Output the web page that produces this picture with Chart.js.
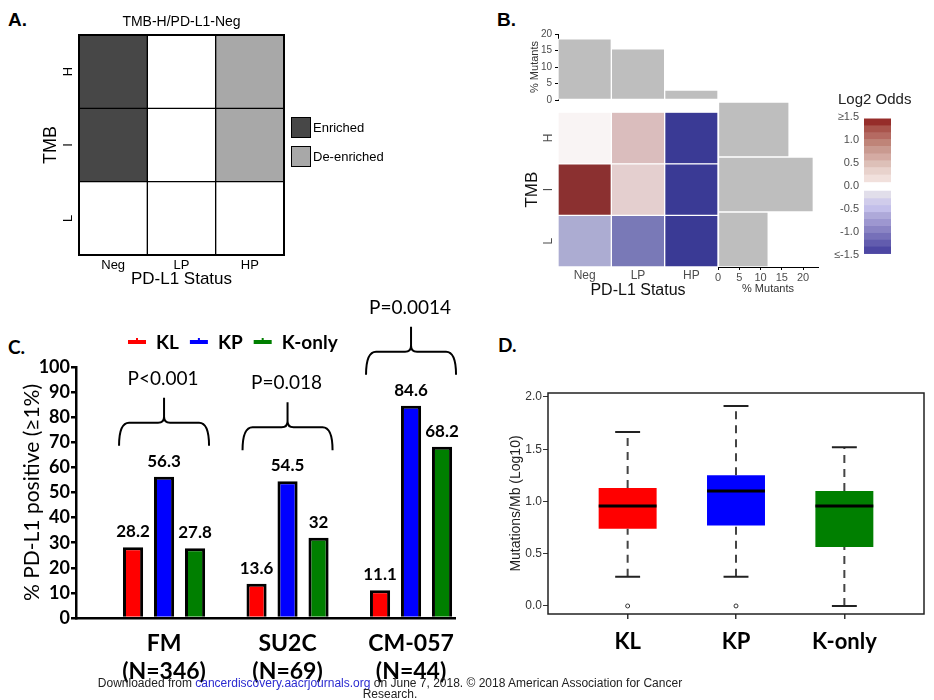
<!DOCTYPE html>
<html>
<head>
<meta charset="utf-8">
<title>TMB / PD-L1 figure</title>
<script src="https://cdn.jsdelivr.net/npm/chart.js@4.4.1/dist/chart.umd.min.js"></script>
<style>
  body { margin: 0; background: #fff; width: 934px; height: 700px; position: relative; overflow: hidden; font-family: 'Liberation Sans', Arial, sans-serif; }
  canvas { position: absolute; }
  .tag { position: absolute; font-weight: bold; line-height: 1; color: #000; }
  .tag.arial { font-family: 'Liberation Sans', Arial, sans-serif; font-size: 19px; }
  .tag.lato { font-family: 'Lato', sans-serif; font-size: 19px; }
  #footer { position: absolute; left: 90px; top: 678px; width: 600px; text-align: center; font-size: 12px; line-height: 11px; color: #222; z-index: 5; }
  #footer span { color: #2b2bd0; }
</style>
</head>
<body>
<div class="tag arial" style="left:8px;top:10px">A.</div>
<div class="tag arial" style="left:497px;top:10px">B.</div>
<div class="tag lato" style="left:8px;top:337px">C.</div>
<div class="tag lato" style="left:498px;top:335px">D.</div>

<canvas id="chartA" width="470" height="290" style="left:0;top:0"></canvas>
<canvas id="chartBTop" width="220" height="90" style="left:500px;top:20px"></canvas>
<canvas id="chartBHeat" width="220" height="200" style="left:500px;top:100px"></canvas>
<canvas id="chartBRight" width="130" height="200" style="left:700px;top:100px"></canvas>
<canvas id="chartBLegend" width="134" height="185" style="left:800px;top:85px"></canvas>
<canvas id="chartC" width="480" height="410" style="left:0;top:290px"></canvas>
<canvas id="chartD" width="454" height="380" style="left:480px;top:320px"></canvas>

<div id="footer">Downloaded from <span>cancerdiscovery.aacrjournals.org</span> on June 7, 2018. © 2018 American Association for Cancer<br>Research.</div>

<script>
(function () {
  'use strict';

  // ---- Panel A: enrichment heatmap ----
  const pdl1Status = ['Neg', 'LP', 'HP'];
  const tmbLevels = ['L', 'I', 'H'];            // bottom -> top
  const enrichH = ['Enriched', '', 'De-enriched'];
  const enrichI = ['Enriched', '', 'De-enriched'];
  const enrichL = ['', '', ''];

  // ---- Panel B: log2 odds + marginal % mutants ----
  const oddsH = [0.08, 0.48, -1.5];
  const oddsI = [1.5, 0.35, -1.5];
  const oddsL = [-0.63, -1.02, -1.5];
  const mutantsByPdl1 = [18.5, 15.5, 3];        // Neg, LP, HP
  const tmbRowsTopDown = ['H', 'I', 'L'];
  const mutantsByTmb = [16.7, 22.4, 11.8];      // H, I, L
  const oddsTicks = [-1.5, -1, -0.5, 0, 0.5, 1, 1.5];
  const legendRedBreaks = [0.09, 0.24, 0.40, 0.55, 0.70, 0.86, 1.01, 1.16, 1.31, 1.46];
  const legendRedColors = ['#f1e0dc', '#e8d2cc', '#ddc0b8', '#d4aba3', '#c99a90', '#bf8478', '#b56a62', '#a9544c', '#962d2a'];
  const legendBlueBreaks = [-0.11, -0.26, -0.41, -0.56, -0.71, -0.86, -1.01, -1.16, -1.31, -1.47];
  const legendBlueColors = ['#e1deea', '#d0cceb', '#c3bfea', '#aea9d9', '#9d97d0', '#8a84c4', '#7670b9', '#625cae', '#4d47a3'];

  // ---- Panel C: % PD-L1 positive ----
  const cohorts = [['FM', '(N=346)'], ['SU2C', '(N=69)'], ['CM-057', '(N=44)']];
  const pctKL = [28.2, 13.6, 11.1];
  const pctKP = [56.3, 54.5, 84.6];
  const pctKonly = [27.8, 32, 68.2];
  const pValues = ['P<0.001', 'P=0.018', 'P=0.0014'];

  // ---- Panel D: TMB boxplots ----
  const groups = ['KL', 'KP', 'K-only'];
  const tmbMin = [0.28, 0.28, 0.0];
  const tmbQ1 = [0.74, 0.77, 0.565];
  const tmbMedian = [0.957, 1.10, 0.957];
  const tmbQ3 = [1.13, 1.25, 1.10];
  const tmbMax = [1.665, 1.914, 1.52];
  const tmbOutliers = [[0.0], [0.0], []];

  const GROUP_COLORS = ['#ff0000', '#0000ff', '#007f00'];
  const ENRICH_COLORS = { 'Enriched': '#474747', 'De-enriched': '#a8a8a8', '': '#ffffff' };
  const ARIAL = "'Liberation Sans', Arial, sans-serif";
  const LATO = "'Lato', sans-serif";

  Chart.defaults.responsive = false;
  Chart.defaults.animation = false;
  Chart.defaults.font.family = ARIAL;
  Chart.defaults.color = '#000';
  Chart.defaults.plugins.legend.display = false;
  Chart.defaults.plugins.tooltip.enabled = false;

  // Rojo / azul segun log2 odds (saturado en +-1.5)
  function oddsColor(v) {
    const t = Math.min(Math.abs(v) / 1.5, 1);
    const end = v >= 0 ? [139, 48, 48] : [58, 58, 149];
    return 'rgb(' + end.map(e => Math.round(255 + (e - 255) * t)).join(',') + ')';
  }

  const fixedTicks = values => scale => { scale.ticks = values.map(v => ({ value: v })); };

  // ======================= A =======================
  const outlinePlugin = {
    id: 'outline',
    afterDatasetsDraw(chart) {
      const { ctx, chartArea: a } = chart;
      ctx.save();
      ctx.strokeStyle = '#000';
      ctx.lineWidth = 2;
      ctx.strokeRect(a.left, a.top, a.right - a.left, a.bottom - a.top);
      ctx.restore();
    }
  };

  const enrichLegend = {
    id: 'enrichLegend',
    afterDraw(chart) {
      const { ctx, chartArea: a } = chart;
      ctx.save();
      ctx.font = '13px ' + ARIAL;
      ctx.textBaseline = 'middle';
      ['Enriched', 'De-enriched'].forEach((label, i) => {
        const y = 117 + i * 29;
        ctx.fillStyle = ENRICH_COLORS[label];
        ctx.fillRect(a.right + 7, y, 19, 20);
        ctx.strokeStyle = '#000';
        ctx.lineWidth = 1;
        ctx.strokeRect(a.right + 7.5, y + 0.5, 19, 20);
        ctx.fillStyle = '#000';
        ctx.fillText(label, a.right + 29, y + 11);
      });
      ctx.restore();
    }
  };

  new Chart(document.getElementById('chartA'), {
    type: 'bar',
    data: {
      labels: pdl1Status,
      datasets: [
        { label: 'L', data: pdl1Status.map(() => 1), backgroundColor: enrichL.map(e => ENRICH_COLORS[e]) },
        { label: 'I', data: pdl1Status.map(() => 1), backgroundColor: enrichI.map(e => ENRICH_COLORS[e]) },
        { label: 'H', data: pdl1Status.map(() => 1), backgroundColor: enrichH.map(e => ENRICH_COLORS[e]) }
      ]
    },
    options: {
      layout: { padding: { right: 186 } },
      datasets: { bar: { barPercentage: 1, categoryPercentage: 1, borderColor: '#000', borderWidth: 1, borderSkipped: false } },
      plugins: {
        title: { display: true, text: 'TMB-H/PD-L1-Neg', fullSize: false, font: { size: 14, weight: 'normal' }, color: '#000', padding: { top: 13.6, bottom: 4.6 } }
      },
      scales: {
        x: {
          stacked: true,
          grid: { display: false, drawTicks: false },
          border: { display: false },
          ticks: { font: { size: 13 }, color: '#000', padding: 3 },
          title: { display: true, text: 'PD-L1 Status', font: { size: 17 }, color: '#000', padding: 0 },
          afterFit: s => { s.height = 35; }
        },
        y: {
          stacked: true, min: 0, max: 3,
          grid: { display: false, drawTicks: false },
          border: { display: false },
          afterBuildTicks: fixedTicks(tmbLevels.map((_, i) => i + 0.5)),
          ticks: { callback: v => tmbLevels[Math.floor(v)], minRotation: 90, maxRotation: 90, crossAlign: 'center', font: { size: 13 }, color: '#000', padding: 6 },
          title: { display: true, text: 'TMB', font: { size: 18 }, color: '#000', padding: { top: 40, bottom: 0 } },
          afterFit: s => { s.width = 79; }
        }
      }
    },
    plugins: [outlinePlugin, enrichLegend]
  });

  // ======================= B =======================
  const GREY_BAR = '#bebebe';
  const TICK_GREY = '#4d4d4d';

  new Chart(document.getElementById('chartBTop'), {
    type: 'bar',
    data: {
      labels: pdl1Status,
      datasets: [{ data: mutantsByPdl1, backgroundColor: GREY_BAR, borderColor: '#fff', borderWidth: 1, borderSkipped: false, barPercentage: 1, categoryPercentage: 1 }]
    },
    options: {
      layout: { padding: { top: 14, right: 2, bottom: 10 } },
      scales: {
        x: { display: false },
        y: {
          min: 0, max: 20,
          ticks: { stepSize: 5, font: { size: 10 }, color: TICK_GREY, padding: 3 },
          grid: { drawOnChartArea: false, tickLength: 3, color: '#000' },
          border: { color: '#000', width: 1 },
          title: { display: true, text: '% Mutants', font: { size: 11 }, color: '#333', padding: { top: 28, bottom: 0 } },
          afterFit: s => { s.width = 58; }
        }
      }
    }
  });

  new Chart(document.getElementById('chartBHeat'), {
    type: 'bar',
    data: {
      labels: pdl1Status,
      datasets: [
        { label: 'L', data: pdl1Status.map(() => 1), backgroundColor: oddsL.map(oddsColor) },
        { label: 'I', data: pdl1Status.map(() => 1), backgroundColor: oddsI.map(oddsColor) },
        { label: 'H', data: pdl1Status.map(() => 1), backgroundColor: oddsH.map(oddsColor) }
      ]
    },
    options: {
      layout: { padding: { top: 2, right: 2 } },
      datasets: { bar: { barPercentage: 1, categoryPercentage: 1, borderColor: '#fff', borderWidth: 1, borderSkipped: false } },
      scales: {
        x: {
          stacked: true,
          grid: { display: false, drawTicks: false },
          border: { display: false },
          ticks: { font: { size: 12 }, color: TICK_GREY, padding: 1 },
          title: { display: true, text: 'PD-L1 Status', font: { size: 16 }, color: '#111', padding: 0 },
          afterFit: s => { s.height = 33; }
        },
        y: {
          stacked: true, min: 0, max: 3,
          grid: { display: false, drawTicks: false },
          border: { display: false },
          afterBuildTicks: fixedTicks(tmbLevels.map((_, i) => i + 0.5)),
          ticks: { callback: v => tmbLevels[Math.floor(v)], minRotation: 90, maxRotation: 90, crossAlign: 'center', font: { size: 12 }, color: TICK_GREY, padding: 5 },
          title: { display: true, text: 'TMB', font: { size: 17 }, color: '#111', padding: { top: 22, bottom: 0 } },
          afterFit: s => { s.width = 58; }
        }
      }
    }
  });

  new Chart(document.getElementById('chartBRight'), {
    type: 'bar',
    data: {
      labels: tmbRowsTopDown,
      datasets: [{ data: mutantsByTmb, backgroundColor: GREY_BAR, borderColor: '#fff', borderWidth: 1, borderSkipped: false, barPercentage: 1, categoryPercentage: 1 }]
    },
    options: {
      indexAxis: 'y',
      layout: { padding: { left: 18, right: 12, top: 2 } },
      scales: {
        y: { display: false },
        x: {
          min: 0, max: 23.5,
          afterBuildTicks: fixedTicks([0, 5, 10, 15, 20]),
          ticks: { font: { size: 11 }, color: TICK_GREY, padding: 1 },
          grid: { drawOnChartArea: false, tickLength: 3, color: '#000' },
          border: { color: '#000', width: 1 },
          title: { display: true, text: '% Mutants', font: { size: 11 }, color: '#333', padding: { top: 0, bottom: 4 } },
          afterFit: s => { s.height = 33; }
        }
      }
    }
  });

  const legendSteps = [];
  legendRedColors.forEach((c, i) => legendSteps.push({ data: [[legendRedBreaks[i], legendRedBreaks[i + 1]]], backgroundColor: c }));
  legendBlueColors.forEach((c, i) => legendSteps.push({ data: [[legendBlueBreaks[i + 1], legendBlueBreaks[i]]], backgroundColor: c }));

  new Chart(document.getElementById('chartBLegend'), {
    type: 'bar',
    data: { labels: [''], datasets: legendSteps },
    options: {
      layout: { padding: { top: 32, right: 43, bottom: 15 } },
      datasets: { bar: { barPercentage: 1, categoryPercentage: 1, borderWidth: 0 } },
      scales: {
        x: { display: false, stacked: true },
        y: {
          min: -1.5, max: 1.5,
          afterBuildTicks: fixedTicks(oddsTicks),
          ticks: { callback: v => (v >= 1.5 ? '≥1.5' : v <= -1.5 ? '≤-1.5' : v.toFixed(1)), font: { size: 11 }, color: TICK_GREY, padding: 5 },
          grid: { display: false, drawTicks: false },
          border: { display: false },
          afterFit: s => { s.width = 64; }
        }
      }
    },
    plugins: [{
      id: 'legendTitle',
      afterDraw(chart) {
        const { ctx } = chart;
        ctx.save();
        ctx.font = '15px ' + ARIAL;
        ctx.fillStyle = '#222';
        ctx.textAlign = 'left';
        ctx.textBaseline = 'middle';
        ctx.fillText('Log2 Odds', 38, 15);
        ctx.restore();
      }
    }]
  });

  // ======================= C =======================
  function drawBrace(ctx, x0, x1, yBase, yMid, yPeak) {
    const cx = (x0 + x1) / 2, r = 10, rc = 6;
    ctx.beginPath();
    ctx.moveTo(x0, yBase);
    ctx.quadraticCurveTo(x0, yMid, x0 + r, yMid);
    ctx.lineTo(cx - rc, yMid);
    ctx.quadraticCurveTo(cx, yMid, cx, yMid - rc);
    ctx.lineTo(cx, yPeak);
    ctx.moveTo(cx, yMid - rc);
    ctx.quadraticCurveTo(cx, yMid, cx + rc, yMid);
    ctx.lineTo(x1 - r, yMid);
    ctx.quadraticCurveTo(x1, yMid, x1, yBase);
    ctx.stroke();
  }

  const cAnnotations = {
    id: 'cAnnotations',
    afterDraw(chart) {
      const { ctx, chartArea: a, scales: { x } } = chart;
      ctx.save();
      ctx.fillStyle = '#000';

      // valores sobre las barras
      ctx.font = 'bold 17px ' + LATO;
      ctx.textAlign = 'center';
      ctx.textBaseline = 'alphabetic';
      chart.data.datasets.forEach((ds, di) => {
        chart.getDatasetMeta(di).data.forEach((bar, i) => {
          ctx.fillText(String(ds.data[i].y), bar.x, bar.y - 10);
        });
      });

      // llaves + p-valores
      ctx.lineWidth = 2;
      ctx.strokeStyle = '#000';
      cohorts.forEach((c, i) => {
        const cx = x.getPixelForValue(i);
        const topY = Math.min(...chart.data.datasets.map((_, di) => chart.getDatasetMeta(di).data[i].y));
        const base = topY - 31;
        drawBrace(ctx, cx - 45, cx + 45, base, base - 23, base - 48);
        ctx.font = '19px ' + LATO;
        ctx.textBaseline = 'middle';
        ctx.fillText(pValues[i], cx - 1, base - 67);
      });

      // leyenda
      ctx.font = 'bold 19px ' + LATO;
      ctx.textAlign = 'left';
      ctx.textBaseline = 'middle';
      let lx = a.left + 52;
      const ly = a.top - 25;
      chart.data.datasets.forEach(ds => {
        ctx.fillStyle = ds.backgroundColor;
        ctx.fillRect(lx, ly - 2, 18, 4);
        ctx.fillRect(lx + 8, ly - 4, 2, 2);
        ctx.fillStyle = '#000';
        ctx.fillText(ds.label, lx + 28, ly + 1);
        lx += 28 + ctx.measureText(ds.label).width + 11;
      });
      ctx.restore();
    }
  };

  new Chart(document.getElementById('chartC'), {
    type: 'bar',
    data: {
      datasets: [
        { label: 'KL', data: pctKL.map((v, i) => ({ x: i, y: v })), backgroundColor: GROUP_COLORS[0] },
        { label: 'KP', data: pctKP.map((v, i) => ({ x: i, y: v })), backgroundColor: GROUP_COLORS[1] },
        { label: 'K-only', data: pctKonly.map((v, i) => ({ x: i, y: v })), backgroundColor: GROUP_COLORS[2] }
      ]
    },
    options: {
      layout: { padding: { top: 77, right: 25 } },
      datasets: { bar: { borderColor: '#000', borderWidth: 3, barPercentage: 0.65, categoryPercentage: 0.753 } },
      scales: {
        x: {
          type: 'linear', min: -0.713, max: 2.356, offset: false,
          afterBuildTicks: fixedTicks(cohorts.map((_, i) => i)),
          ticks: { callback: v => cohorts[v], autoSkip: false, maxRotation: 0, font: { family: LATO, weight: 'bold', size: 23, lineHeight: 1.2 }, color: '#000', padding: 12 },
          grid: { display: false, drawTicks: false },
          border: { color: '#000', width: 2.5 },
          afterFit: s => { s.height = 82; }
        },
        y: {
          min: 0, max: 100,
          ticks: { stepSize: 10, font: { family: LATO, weight: 'bold', size: 18 }, color: '#000', padding: 1 },
          grid: { drawOnChartArea: false, tickLength: 5, lineWidth: 2.5, color: '#000' },
          border: { color: '#000', width: 2.5 },
          title: { display: true, text: '% PD-L1 positive (≥1%)', font: { family: LATO, size: 21 }, color: '#000', padding: { top: 20, bottom: 0 } },
          afterFit: s => { s.width = 76; }
        }
      }
    },
    plugins: [cAnnotations]
  });

  // ======================= D =======================
  const BOX_HALF = 0.267, CAP_HALF = 0.115;
  const whiskerPts = [], capPts = [], medianPts = [];
  groups.forEach((g, i) => {
    const x = i + 1;
    whiskerPts.push({ x, y: tmbQ3[i] }, { x, y: tmbMax[i] }, { x, y: null }, { x, y: tmbMin[i] }, { x, y: tmbQ1[i] }, { x, y: null });
    capPts.push({ x: x - CAP_HALF, y: tmbMax[i] }, { x: x + CAP_HALF, y: tmbMax[i] }, { x, y: null },
                { x: x - CAP_HALF, y: tmbMin[i] }, { x: x + CAP_HALF, y: tmbMin[i] }, { x, y: null });
    medianPts.push({ x: x - BOX_HALF, y: tmbMedian[i] }, { x: x + BOX_HALF, y: tmbMedian[i] }, { x, y: null });
  });
  const outlierPts = tmbOutliers.flatMap((vals, i) => vals.map(v => ({ x: i + 1, y: v })));

  new Chart(document.getElementById('chartD'), {
    type: 'bar',
    data: {
      datasets: [
        { type: 'bar', data: groups.map((g, i) => ({ x: i + 1, y: [tmbQ1[i], tmbQ3[i]] })), backgroundColor: GROUP_COLORS, borderWidth: 0, barPercentage: 0.535, categoryPercentage: 1, order: 3 },
        { type: 'line', data: whiskerPts, borderColor: '#444', borderWidth: 2, borderDash: [8, 6], pointRadius: 0, fill: false, spanGaps: false, order: 2 },
        { type: 'line', data: capPts, borderColor: '#222', borderWidth: 2, pointRadius: 0, fill: false, spanGaps: false, order: 1 },
        { type: 'line', data: medianPts, borderColor: '#000', borderWidth: 3, pointRadius: 0, fill: false, spanGaps: false, order: 1 },
        { type: 'scatter', data: outlierPts, pointRadius: 2, pointStyle: 'circle', backgroundColor: '#fff', borderColor: '#333', borderWidth: 1, order: 0 }
      ]
    },
    options: {
      layout: { padding: { top: 73, right: 10 } },
      scales: {
        x: {
          type: 'linear', min: 0.265, max: 3.735, offset: false,
          afterBuildTicks: fixedTicks([1, 2, 3]),
          ticks: { callback: v => groups[v - 1], autoSkip: false, maxRotation: 0, font: { family: LATO, weight: 'bold', size: 22 }, color: '#000', padding: 10 },
          grid: { offset: false, drawOnChartArea: false, tickLength: 5, color: '#333', lineWidth: 1.5 },
          border: { display: false },
          afterFit: s => { s.height = 86; }
        },
        y: {
          min: -0.077, max: 2.038,
          afterBuildTicks: fixedTicks([0, 0.5, 1, 1.5, 2]),
          ticks: { callback: v => v.toFixed(1), font: { size: 12 }, color: '#333', padding: 1 },
          grid: { drawOnChartArea: false, tickLength: 5, color: '#333', lineWidth: 1 },
          border: { display: false },
          title: { display: true, text: 'Mutations/Mb (Log10)', font: { size: 14 }, color: '#222', padding: { top: 28, bottom: 0 } },
          afterFit: s => { s.width = 68; }
        }
      }
    },
    plugins: [{
      id: 'boxFrame',
      afterDraw(chart) {
        const { ctx, chartArea: a } = chart;
        ctx.save();
        ctx.strokeStyle = '#222';
        ctx.lineWidth = 1.5;
        ctx.strokeRect(a.left, a.top, a.right - a.left, a.bottom - a.top);
        ctx.restore();
      }
    }]
  });
})();
</script>
</body>
</html>
